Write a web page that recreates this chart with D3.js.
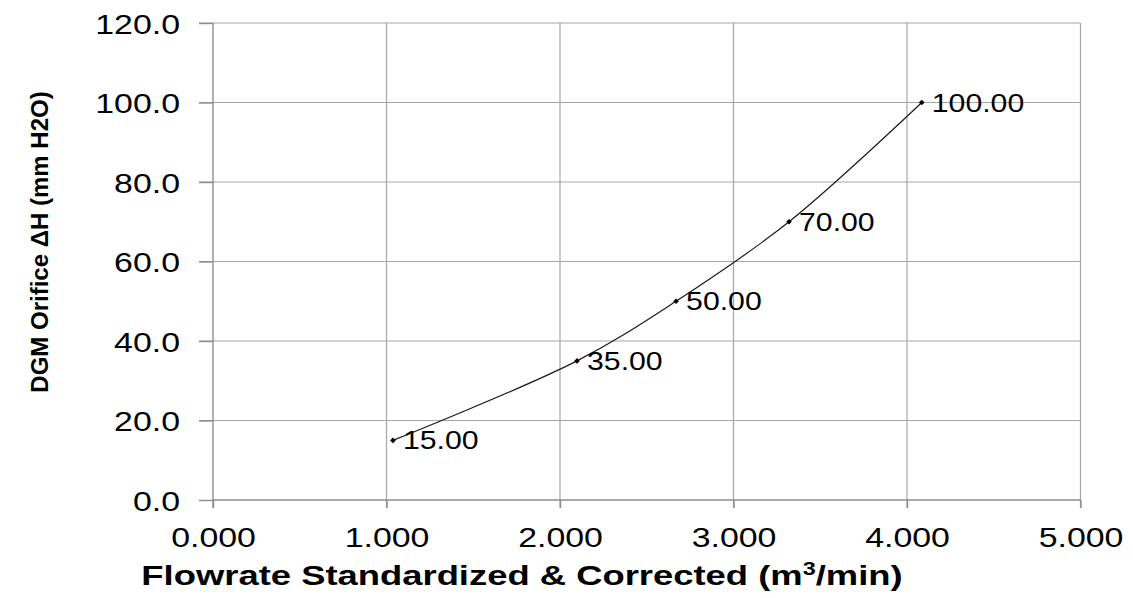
<!DOCTYPE html>
<html>
<head>
<meta charset="utf-8">
<script src="https://cdn.jsdelivr.net/npm/d3@7"></script>
<style>
  html, body { margin: 0; padding: 0; background: #fff; }
  svg { display: block; font-family: "Liberation Sans", Arial, sans-serif; }
  .grid line { stroke: #a6a6a6; stroke-width: 1.2; }
  .eje path, .eje line { stroke: #8c8c8c; stroke-width: 1.4; }
</style>
</head>
<body>
<svg id="grafica" width="1133" height="598"></svg>
<script>
// datos
const caudal   = [1.037, 2.098, 2.669, 3.320, 4.085];   // m3/min
const deltaH   = [15, 35, 50, 70, 100];                  // mm H2O
const etiquetas = ["15.00", "35.00", "50.00", "70.00", "100.00"];
const ticksX   = [0, 1, 2, 3, 4, 5];
const ticksY   = [0, 20, 40, 60, 80, 100, 120];

const estiramiento = 1.21;  // el texto original esta ensanchado

const svg = d3.select('#grafica');

const izq = 213, der = 1080.5, arriba = 23, abajo = 500;

const x = d3.scaleLinear().domain([0, 5]).range([izq, der]);
const y = d3.scaleLinear().domain([0, 120]).range([abajo, arriba]);

// rejilla
svg.append('g').attr('class', 'grid')
  .selectAll('line.v').data(ticksX.slice(1)).join('line')
  .attr('x1', d => x(d)).attr('x2', d => x(d))
  .attr('y1', arriba).attr('y2', abajo + 8);

svg.append('g').attr('class', 'grid')
  .selectAll('line.h').data(ticksY.slice(1)).join('line')
  .attr('x1', izq - 14).attr('x2', der)
  .attr('y1', d => y(d)).attr('y2', d => y(d));

// ejes
const ejeX = svg.append('g').attr('class', 'eje')
  .attr('transform', `translate(0,${abajo})`)
  .call(d3.axisBottom(x).tickValues(ticksX).tickFormat(d3.format('.3f')).tickSizeOuter(0).tickSize(8));

ejeX.selectAll('text')
  .attr('y', 0).attr('dy', 0)
  .attr('transform', `translate(0,47) scale(${estiramiento},1)`)
  .style('font-size', '28px').style('fill', '#000');

const ejeY = svg.append('g').attr('class', 'eje')
  .attr('transform', `translate(${izq},0)`)
  .call(d3.axisLeft(y).tickValues(ticksY).tickFormat(d3.format('.1f')).tickSizeOuter(0).tickSize(14));

ejeY.selectAll('text')
  .attr('x', 0).attr('dy', 0)
  .attr('transform', `translate(-33,10) scale(${estiramiento},1)`)
  .style('font-size', '28px').style('fill', '#000');

ejeX.select('.domain').attr('d', `M${izq},0H${der}`);
ejeY.select('.domain').attr('d', `M0,${arriba}V${abajo + 8}`);

// curva suavizada
const puntos = caudal.map((c, i) => [c, deltaH[i]]);

const linea = d3.line()
  .x(d => x(d[0]))
  .y(d => y(d[1]))
  .curve(d3.curveCatmullRom.alpha(0.5));

svg.append('path')
  .datum(puntos)
  .attr('d', linea)
  .attr('fill', 'none')
  .attr('stroke', '#1a1a1a')
  .attr('stroke-width', 1.2);

// marcadores en rombo
svg.selectAll('path.marca')
  .data(puntos)
  .join('path')
  .attr('class', 'marca')
  .attr('d', d3.symbol(d3.symbolSquare, 16))
  .attr('transform', d => `translate(${x(d[0])},${y(d[1])}) rotate(45)`)
  .attr('fill', '#000');

// etiquetas de datos
svg.selectAll('text.etiqueta')
  .data(puntos)
  .join('text')
  .attr('class', 'etiqueta')
  .attr('transform', d => `translate(${x(d[0]) + 10},${y(d[1]) + 9}) scale(${estiramiento},1)`)
  .style('font-size', '25px')
  .text((d, i) => etiquetas[i]);

// titulos de los ejes
svg.append('text')
  .attr('transform', 'translate(522,585) scale(1.30,1)')
  .attr('text-anchor', 'middle')
  .style('font-size', '28px').style('font-weight', 'bold')
  .html('Flowrate Standardized &amp; Corrected (m<tspan dy="-10" font-size="18">3</tspan><tspan dy="10">/min)</tspan>');

svg.append('text')
  .attr('transform', 'translate(48,242) rotate(-90)')
  .attr('text-anchor', 'middle')
  .style('font-size', '24px').style('font-weight', 'bold')
  .text('DGM Orifice ΔH (mm H2O)');
</script>
</body>
</html>
